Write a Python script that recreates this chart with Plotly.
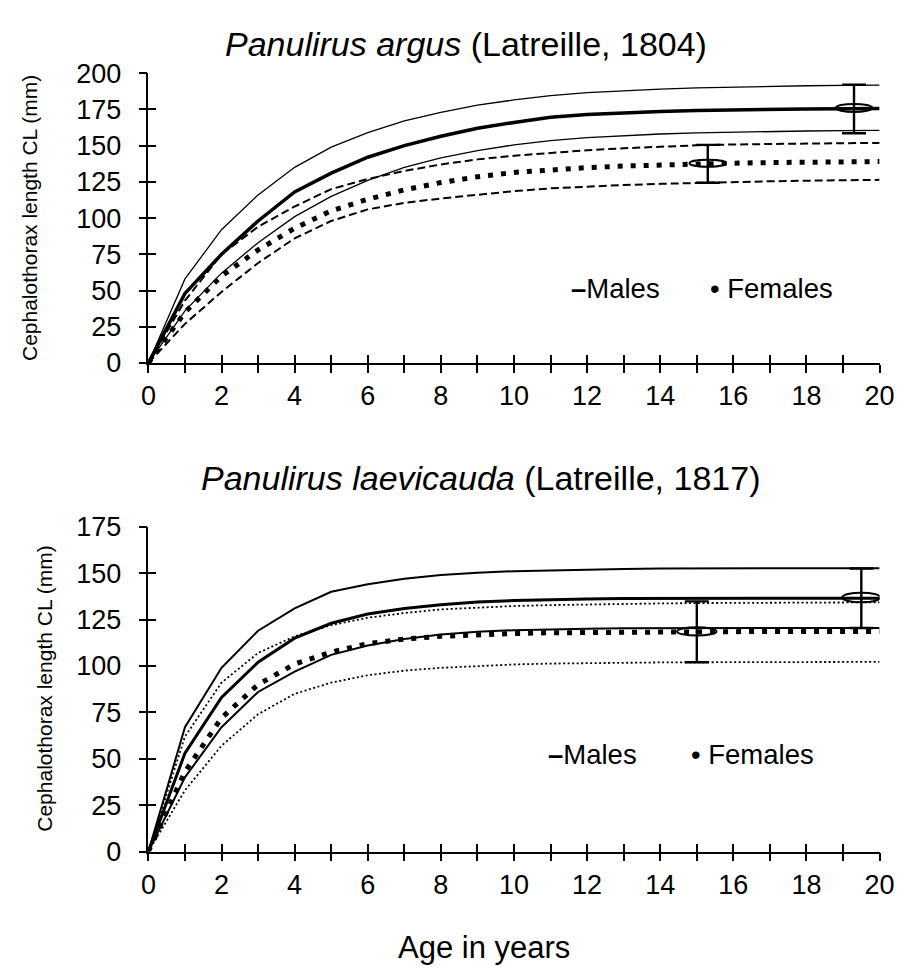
import plotly.graph_objects as go

# ---------------- data ----------------
age = list(range(0, 21))
x_ticklabels = [str(a) if a % 2 == 0 else "" for a in age]
argus_y_ticks = [0, 25, 50, 75, 100, 125, 150, 175, 200]
laev_y_ticks = [0, 25, 50, 75, 100, 125, 150, 175]

# Panulirus argus (top panel)
argus_male_mean = [0, 48, 75, 98, 118, 131, 142, 150, 156.5, 162, 166, 169.5, 171.5, 172.8, 173.6, 174.2, 174.7, 175, 175.3, 175.5, 175.6]
argus_male_upper = [0, 58, 92, 116, 135, 149, 159, 167, 173, 178, 181.5, 184.5, 186.5, 188, 189, 189.8, 190.4, 190.9, 191.3, 191.6, 191.8]
argus_male_lower = [0, 36, 62, 83, 101, 115, 126, 135, 141.5, 146.5, 150.5, 153.5, 155.5, 157, 158, 158.8, 159.4, 159.8, 160.1, 160.3, 160.5]
argus_female_mean = [0, 35, 60, 78, 93, 105, 113, 119.5, 124.5, 128.5, 131.5, 133.3, 134.8, 135.9, 136.8, 137.4, 137.9, 138.3, 138.6, 138.8, 139]
argus_female_upper = [0, 43, 75, 94, 108, 120, 127, 132.5, 137, 140.5, 143, 145, 146.8, 148.2, 149.3, 150.2, 150.8, 151.2, 151.5, 151.7, 151.8]
argus_female_lower = [0, 27, 49, 69, 86, 98, 106, 110.5, 113.5, 116.3, 118.6, 120.5, 121.8, 122.8, 123.6, 124.3, 124.9, 125.4, 125.8, 126.1, 126.4]

# Panulirus laevicauda (bottom panel)
laev_male_mean = [0, 53, 83, 102, 115, 123, 128, 131, 133, 134.5, 135.3, 135.8, 136.1, 136.3, 136.4, 136.5, 136.5, 136.5, 136.5, 136.5, 136.5]
laev_male_upper = [0, 67, 99, 119, 131, 140, 144, 147, 149, 150.3, 151.1, 151.6, 152, 152.3, 152.5, 152.6, 152.7, 152.7, 152.7, 152.7, 152.7]
laev_male_lower = [0, 40, 67, 86, 97, 106, 111, 114.5, 117, 118.5, 119.3, 119.8, 120.1, 120.3, 120.4, 120.5, 120.5, 120.5, 120.5, 120.5, 120.5]
laev_female_mean = [0, 43, 72, 90, 101, 107.5, 112, 114.5, 116, 116.9, 117.5, 117.9, 118.1, 118.3, 118.4, 118.5, 118.5, 118.6, 118.6, 118.6, 118.6]
laev_female_upper = [0, 62, 91, 107, 116, 122, 126, 128.5, 130.5, 131.6, 132.3, 132.8, 133.2, 133.5, 133.7, 133.9, 134, 134.1, 134.2, 134.3, 134.3]
laev_female_lower = [0, 33, 57, 74, 85, 91, 95, 97.5, 99, 100, 100.8, 101.3, 101.6, 101.8, 101.9, 102, 102.1, 102.1, 102.2, 102.2, 102.2]

# error bars: [males, females]
argus_err_age = [19.3, 15.3]
argus_err_mean = [176, 137.8]
argus_err_upper = [192, 150.5]
argus_err_lower = [158.5, 124.4]

laev_err_age = [19.5, 15.0]
laev_err_mean = [136.9, 118.6]
laev_err_upper = [152.5, 134.8]
laev_err_lower = [120.5, 102]

# ---------------- styling ----------------
FONT = "Liberation Sans, Arial, sans-serif"
W, H = 918, 978
X_DOM = [144 / W, 894 / W]
TOP_DOM = [1 - 359 / H, 1 - 60 / H]
BOT_DOM = [1 - 863 / H, 1 - 528 / H]
TICKFONT = dict(family=FONT, size=27, color="black")

fig = go.Figure()


def line(x, y, xa, ya, width, dash="solid"):
    fig.add_trace(go.Scatter(x=x, y=y, xaxis=xa, yaxis=ya, mode="lines",
                             line=dict(color="black", width=width, dash=dash),
                             showlegend=False, hoverinfo="skip"))


# top panel curves
line(age, argus_male_upper, "x", "y", 1.3)
line(age, argus_male_lower, "x", "y", 1.3)
line(age, argus_male_mean, "x", "y", 3.5)
line(age, argus_female_upper, "x", "y", 2, "8px,4px")
line(age, argus_female_lower, "x", "y", 2, "8px,4px")
line(age, argus_female_mean, "x", "y", 5, "5px,8px")

# bottom panel curves
line(age, laev_male_upper, "x2", "y2", 2)
line(age, laev_male_lower, "x2", "y2", 2)
line(age, laev_male_mean, "x2", "y2", 3)
line(age, laev_female_upper, "x2", "y2", 1.8, "2px,2.5px")
line(age, laev_female_lower, "x2", "y2", 1.8, "2px,2.5px")
line(age, laev_female_mean, "x2", "y2", 5, "5px,8px")


def errbars(xs, m, u, l, xa, ya):
    fig.add_trace(go.Scatter(
        x=xs, y=m, xaxis=xa, yaxis=ya, mode="markers",
        marker=dict(size=1, color="rgba(0,0,0,0)"),
        error_y=dict(type="data", symmetric=False,
                     array=[a - b for a, b in zip(u, m)],
                     arrayminus=[b - c for b, c in zip(m, l)],
                     color="black", thickness=2.4, width=12),
        showlegend=False, hoverinfo="skip"))


errbars(argus_err_age, argus_err_mean, argus_err_upper, argus_err_lower, "x3", "y3")
errbars(laev_err_age, laev_err_mean, laev_err_upper, laev_err_lower, "x4", "y4")

# open ellipses at the error-bar centres
ell_half_w = [0.5, 0.5]
top_half_h = [2.8, 2.4]
bot_half_h = [2.6, 2.2]
shapes = []
for a, m, hw, hh in zip(argus_err_age, argus_err_mean, ell_half_w, top_half_h):
    shapes.append(dict(type="circle", xref="x", yref="y", x0=a - hw, x1=a + hw,
                       y0=m - hh, y1=m + hh, line=dict(color="black", width=2), layer="above"))
for a, m, hw, hh in zip(laev_err_age, laev_err_mean, [0.52, 0.54], bot_half_h):
    shapes.append(dict(type="circle", xref="x2", yref="y2", x0=a - hw, x1=a + hw,
                       y0=m - hh, y1=m + hh, line=dict(color="black", width=2), layer="above"))


def xax(anchor, outside=True, overlay=None, labels=True):
    d = dict(range=[0, 20], tickvals=age, ticktext=x_ticklabels,
             ticks="outside" if outside else "inside", ticklen=8, tickwidth=1.5,
             tickcolor="black", showgrid=False, zeroline=False, fixedrange=True,
             showticklabels=labels, tickfont=TICKFONT, anchor=anchor)
    if overlay:
        d.update(overlaying=overlay, showline=False)
    else:
        d.update(domain=X_DOM, showline=True, linecolor="black", linewidth=1.5)
    return d


def yax(anchor, rng, tv, dom=None, outside=True, overlay=None, labels=True):
    d = dict(range=rng, tickvals=tv, ticks="outside" if outside else "inside",
             ticklen=8, tickwidth=1.5, tickcolor="black", showgrid=False,
             zeroline=False, fixedrange=True, showticklabels=labels,
             tickfont=TICKFONT, anchor=anchor, ticklabelstandoff=12)
    if overlay:
        d.update(overlaying=overlay, showline=False)
    else:
        d.update(domain=dom, showline=True, linecolor="black", linewidth=1.5)
    return d


ann = []


def text(t, x, y, size, xanchor="center", angle=0):
    ann.append(dict(text=t, x=x / W, y=1 - y / H, xref="paper", yref="paper",
                    xanchor=xanchor, yanchor="middle", showarrow=False,
                    textangle=angle, font=dict(family=FONT, size=size, color="black")))


text("<i>Panulirus argus</i> (Latreille, 1804)", 470, 30, 34)
text("<i>Panulirus laevicauda</i> (Latreille, 1817)", 485, 478, 34)
text("Cephalothorax length CL (mm)", 22, 209, 21, angle=-90)
text("Cephalothorax length CL (mm)", 38, 695, 21, angle=-90)
text("Age in years", 488, 962, 31)
text("<b>–</b>Males", 575, 282, 27.5, xanchor="left")
text("• Females", 718, 282, 27.5, xanchor="left")
text("<b>–</b>Males", 552, 763, 27.5, xanchor="left")
text("• Females", 698, 763, 27.5, xanchor="left")

fig.update_layout(
    width=W, height=H, margin=dict(l=0, r=0, t=0, b=0),
    paper_bgcolor="white", plot_bgcolor="white",
    font=dict(family=FONT, color="black"),
    xaxis=xax("y"), yaxis=yax("x", [0, 200], argus_y_ticks, TOP_DOM),
    xaxis2=xax("y2"), yaxis2=yax("x2", [0, 175], laev_y_ticks, BOT_DOM),
    xaxis3=xax("y3", outside=False, overlay="x", labels=False),
    yaxis3=yax("x3", [0, 200], argus_y_ticks, outside=False, overlay="y", labels=False),
    xaxis4=xax("y4", outside=False, overlay="x2", labels=False),
    yaxis4=yax("x4", [0, 175], laev_y_ticks, outside=False, overlay="y2", labels=False),
    shapes=shapes, annotations=ann, showlegend=False,
)

fig.write_html("out.html")
